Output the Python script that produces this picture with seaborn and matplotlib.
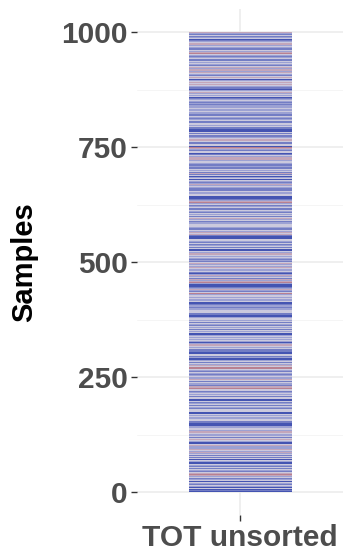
import numpy as np
import matplotlib
matplotlib.use("Agg")
import matplotlib.pyplot as plt
from matplotlib.colors import LinearSegmentedColormap
import seaborn as sns

# Per-row colour codes of the sample strip, listed from sample 1000 (top) down to sample 0.
# B = strongly negative, b = negative, l = slightly negative, w = neutral,
# p = positive, r = strongly positive
ROWS_1000_875 = "plbwblwBblwpplwlbbwlprwlblwbbwlwlbw" "plpplpwlbwpwBlwpwpwlbbBlwplwlwBblwlblbl"
ROWS_875_750 = "llwllwllbbwlblwbbwwlwbbBBBwbwbblwppwbbw" "wBrplbwwBbwlppplwwlbblbbwlwbpbwBlwBwlbl"
ROWS_750_500 = "plwlbbbwllwwBBBblprlwblwbbwlbwlwbwplwbl" "lwwwlbbwlpwpbBBBwwlbwblwbwBBwlppwlwlblb"
ROWS_500_375 = "wwplwlpwllwbBlplwbplprlBBBblplbwrlwwlwl"
ROWS_375_250 = "lwBBbllbllwwwbbBBlwwlwbwlbwlwbwlwBBlwlw" "lwlBlppwlwbbbBBwwblBBlwbwlpwrrwlbwlblwl"
ROWS_250_0 = ("lpwbwllbpprwwblwlwbwwBBwblwbwlbwwwBBwlw" "llwwbbBBBllwwlppwllwbwpwlBBwplllpwlplwbw"
              "bwBwlBBwlbwbwlbwprplwblwBwlbwlBwBbB")

CODE_VALUES = {"B": -1.0, "b": -0.65, "l": -0.35, "w": 0.0, "p": 0.45, "r": 0.85}

Y_TICKS = [0, 250, 500, 750, 1000]
Y_MINOR = [125, 375, 625, 875]
X_LABEL = "TOT unsorted"
N_SAMPLES = 1000

codes = ROWS_1000_875 + ROWS_875_750 + ROWS_750_500 + ROWS_500_375 + ROWS_375_250 + ROWS_250_0
values_top_down = np.array([CODE_VALUES[c] for c in codes])
values = values_top_down[::-1].reshape(-1, 1)  # bottom (sample 0) to top
y_edges = np.linspace(0, N_SAMPLES, len(values) + 1)

# muted blue - grey - red diverging scale
cmap = LinearSegmentedColormap.from_list(
    "div", [(0.0, "#4454b2"), (0.325, "#9ca1d3"), (0.5, "#cbc9dd"),
            (0.725, "#c3a6ba"), (1.0, "#b47282")])

sns.set_theme(style="whitegrid")
plt.rcParams["font.family"] = ["Liberation Sans", "DejaVu Sans"]

fig = plt.figure(figsize=(3.49, 5.53), dpi=100)
ax = fig.add_axes([137 / 349, 1 - 515 / 553, 206 / 349, 506 / 553])
ax.set_facecolor("white")

ax.pcolormesh([-0.3, 0.3], y_edges, values, cmap=cmap, vmin=-1, vmax=1,
              shading="flat", zorder=2, linewidth=0, antialiased=False)

ax.set_xlim(-0.6, 0.6)
ax.set_ylim(-50, 1050)
ax.set_xticks([0])
ax.set_xticklabels([X_LABEL])
ax.set_yticks(Y_TICKS)
ax.set_yticks(Y_MINOR, minor=True)

ax.grid(which="major", color="#ebebeb", linewidth=1.1, zorder=0)
ax.grid(which="minor", axis="y", color="#f4f4f4", linewidth=0.6, zorder=0)
ax.set_axisbelow(True)
for s in ax.spines.values():
    s.set_visible(False)

ax.tick_params(axis="both", which="major", length=4, width=1.0, color="#333333",
               labelsize=21.5, labelcolor="#4d4d4d", pad=2.5, left=True, bottom=True)
ax.tick_params(axis="y", which="minor", length=0)
for lbl in ax.get_xticklabels() + ax.get_yticklabels():
    lbl.set_fontweight("bold")

ax.set_xlabel("")
ax.set_ylabel("Samples", fontsize=21, fontweight="bold", color="black")
ax.yaxis.set_label_coords((38 - 137) / 206, 0.5)

fig.savefig("out.png", dpi=100, facecolor="white")
